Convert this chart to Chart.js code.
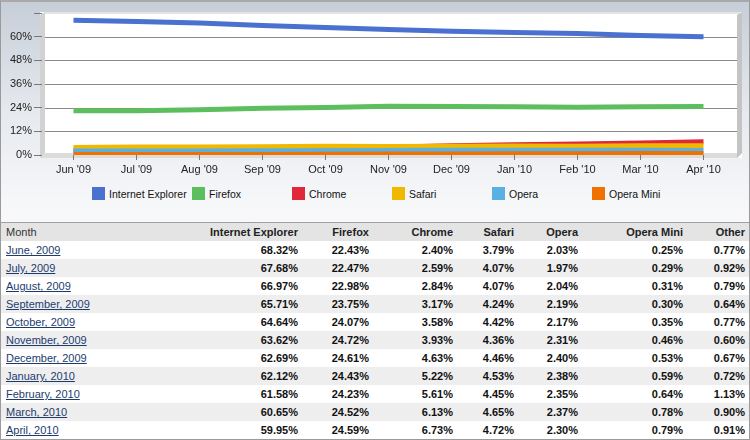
<!DOCTYPE html>
<html lang="en">
<head>
    <meta charset="UTF-8">
    <title>Browser Market Share</title>
    <script src="https://cdn.jsdelivr.net/npm/chart.js"></script>
    <style>
        body { margin: 0; font-family: "Liberation Sans", Arial, sans-serif; background: #fff; }
        #wrap { position: relative; width: 750px; height: 440px; overflow: hidden; }
        #top {
            position: absolute; left: 0; top: 0; width: 748px; height: 221px;
            border: 1px solid #9a9a9a; border-top: 2px solid #a9a9a9; border-bottom: none;
            background: linear-gradient(to bottom, #c6ced8 0px, #e6e9ee 110px, #f6f7f9 200px, #f8f8f9 221px);
        }
        #chartCanvas { position: absolute; left: 0; top: 0; }
        #legend { position: absolute; left: 0; top: 187px; width: 750px; height: 16px; font-size: 10.5px; color: #111; }
        .lg-item { position: absolute; top: 0; height: 14px; line-height: 14px; white-space: nowrap; }
        .lg-box { position: absolute; left: 0; top: 0; width: 13px; height: 13px; }
        .lg-text { position: absolute; left: 17px; top: 0; }
        #tableWrap {
            position: absolute; left: 0; top: 222px; width: 748px; height: 216px;
            border: 1px solid #9a9a9a; border-top: 1px solid #a0a0a0; background: #fff;
        }
        table { border-collapse: collapse; table-layout: fixed; width: 748px; font-size: 11px; }
        th, td { height: 18px; padding: 0 4px; text-align: right; white-space: nowrap; overflow: hidden; }
        th { background: #e4e4e4; font-weight: bold; color: #222; }
        th.month { text-align: left; font-weight: normal; color: #333; padding-left: 5px; }
        td { font-weight: bold; color: #111; }
        td.month { text-align: left; font-weight: normal; padding-left: 5px; }
        td.month a { color: #1d3c6e; text-decoration: underline; }
        tr.alt td { background: #eeeeee; }
    </style>
</head>
<body>
<div id="wrap">
    <div id="top"></div>
    <canvas id="chartCanvas" width="750" height="180"></canvas>
    <div id="legend"></div>
    <div id="tableWrap"><table id="dataTable"></table></div>
</div>

<script>
    // data
    const months = ["Jun '09", "Jul '09", "Aug '09", "Sep '09", "Oct '09", "Nov '09", "Dec '09", "Jan '10", "Feb '10", "Mar '10", "Apr '10"];
    const monthNames = ["June, 2009", "July, 2009", "August, 2009", "September, 2009", "October, 2009", "November, 2009",
        "December, 2009", "January, 2010", "February, 2010", "March, 2010", "April, 2010"];
    const ie = [68.32, 67.68, 66.97, 65.71, 64.64, 63.62, 62.69, 62.12, 61.58, 60.65, 59.95];
    const firefox = [22.43, 22.47, 22.98, 23.75, 24.07, 24.72, 24.61, 24.43, 24.23, 24.52, 24.59];
    const chrome = [2.40, 2.59, 2.84, 3.17, 3.58, 3.93, 4.63, 5.22, 5.61, 6.13, 6.73];
    const safari = [3.79, 4.07, 4.07, 4.24, 4.42, 4.36, 4.46, 4.53, 4.45, 4.65, 4.72];
    const opera = [2.03, 1.97, 2.04, 2.19, 2.17, 2.31, 2.40, 2.38, 2.35, 2.37, 2.30];
    const operaMini = [0.25, 0.29, 0.31, 0.30, 0.35, 0.46, 0.53, 0.59, 0.64, 0.78, 0.79];
    const other = [0.77, 0.92, 0.79, 0.64, 0.77, 0.60, 0.67, 0.72, 1.13, 0.90, 0.91];
    const yTicks = [0, 12, 24, 36, 48, 60, 72];

    const seriesNames = ["Internet Explorer", "Firefox", "Chrome", "Safari", "Opera", "Opera Mini"];
    const seriesData = [ie, firefox, chrome, safari, opera, operaMini];
    const seriesColors = ["#4a70d0", "#5cbe5c", "#e0283a", "#f0b800", "#5ab0e2", "#f07000"];
    const drawOrder = [1, 2, 6, 5, 4, 3]; // chrome sits underneath the others

    // white 3d box behind the plot + horizontal grid lines
    const panelPlugin = {
        id: 'panel',
        beforeDraw(chart) {
            const c = chart.ctx;
            const y = chart.scales.y;
            const top = Math.round(y.getPixelForValue(72)) - 1;
            const bottom = Math.round(y.getPixelForValue(0)) + 3;
            c.save();
            c.fillStyle = '#ffffff';
            c.fillRect(40, top, 702, bottom - top);
            // left wall
            c.fillStyle = '#d2d2d2';
            c.beginPath();
            c.moveTo(40, top + 3); c.lineTo(45, top); c.lineTo(45, bottom - 5); c.lineTo(40, bottom);
            c.closePath(); c.fill();
            // top edge
            c.fillStyle = '#e4e4e4';
            c.fillRect(45, top, 695, 2);
            // floor
            c.fillStyle = '#dcdcdc';
            c.beginPath();
            c.moveTo(40, bottom); c.lineTo(45, bottom - 5); c.lineTo(742, bottom - 5); c.lineTo(737, bottom);
            c.closePath(); c.fill();
            // right wall
            c.fillStyle = '#c4c4c4';
            c.beginPath();
            c.moveTo(737, top + 3); c.lineTo(742, top); c.lineTo(742, bottom - 5); c.lineTo(737, bottom);
            c.closePath(); c.fill();
            // grid lines
            c.strokeStyle = '#8a8a8a';
            c.lineWidth = 1;
            yTicks.forEach(v => {
                if (v === 0 || v === 72) return;
                const py = Math.round(y.getPixelForValue(v)) + 0.5;
                c.beginPath(); c.moveTo(45, py); c.lineTo(737, py); c.stroke();
            });
            c.restore();
        }
    };

    const ctx = document.getElementById('chartCanvas').getContext('2d');
    const chart = new Chart(ctx, {
        type: 'line',
        data: {
            labels: months,
            datasets: seriesNames.map((name, i) => ({
                label: name,
                data: seriesData[i],
                borderColor: seriesColors[i],
                backgroundColor: seriesColors[i],
                borderWidth: 5,
                pointRadius: 0,
                tension: 0,
                fill: false,
                order: drawOrder[i]
            }))
        },
        options: {
            responsive: false,
            animation: false,
            layout: { padding: { top: 13, right: 15, left: 0, bottom: 0 } },
            plugins: {
                legend: { display: false },
                tooltip: { enabled: false }
            },
            scales: {
                x: {
                    offset: true,
                    border: { display: false },
                    grid: { display: true, drawOnChartArea: false, offset: false, tickLength: 5, color: '#777' },
                    ticks: { padding: 3, color: '#222', maxRotation: 0, autoSkip: false,
                        font: { family: 'Liberation Sans', size: 11 } },
                    afterFit(scale) { scale.height = 25; }
                },
                y: {
                    min: 0,
                    max: 72,
                    border: { display: false },
                    grid: { drawOnChartArea: false, tickLength: 8, color: '#777' },
                    afterBuildTicks(scale) { scale.ticks = yTicks.map(v => ({ value: v })); },
                    ticks: {
                        padding: 2, color: '#222',
                        font: { family: 'Liberation Sans', size: 11 },
                        callback: v => v === 72 ? '' : v + '%'
                    },
                    afterFit(scale) { scale.width = 42; }
                }
            }
        },
        plugins: [panelPlugin]
    });

    // legend with fixed spacing
    const legend = document.getElementById('legend');
    chart.data.datasets.forEach((ds, i) => {
        const item = document.createElement('div');
        item.className = 'lg-item';
        item.style.left = (92 + i * 100) + 'px';
        item.innerHTML = '<span class="lg-box" style="background:' + ds.borderColor + '"></span>' +
            '<span class="lg-text">' + ds.label + '</span>';
        legend.appendChild(item);
    });

    // data table
    const table = document.getElementById('dataTable');
    const colWidths = [200, 101, 71, 84, 61, 64, 105, 62];
    let html = '<colgroup>' + colWidths.map(w => '<col style="width:' + w + 'px">').join('') + '</colgroup>';
    html += '<tr><th class="month">Month</th><th>Internet Explorer</th><th>Firefox</th><th>Chrome</th>' +
        '<th>Safari</th><th>Opera</th><th>Opera Mini</th><th>Other</th></tr>';
    const cols = [ie, firefox, chrome, safari, opera, operaMini, other];
    monthNames.forEach((m, r) => {
        html += '<tr' + (r % 2 === 1 ? ' class="alt"' : '') + '><td class="month"><a href="#">' + m + '</a></td>';
        cols.forEach(col => { html += '<td>' + col[r].toFixed(2) + '%</td>'; });
        html += '</tr>';
    });
    table.innerHTML = html;
</script>
</body>
</html>
